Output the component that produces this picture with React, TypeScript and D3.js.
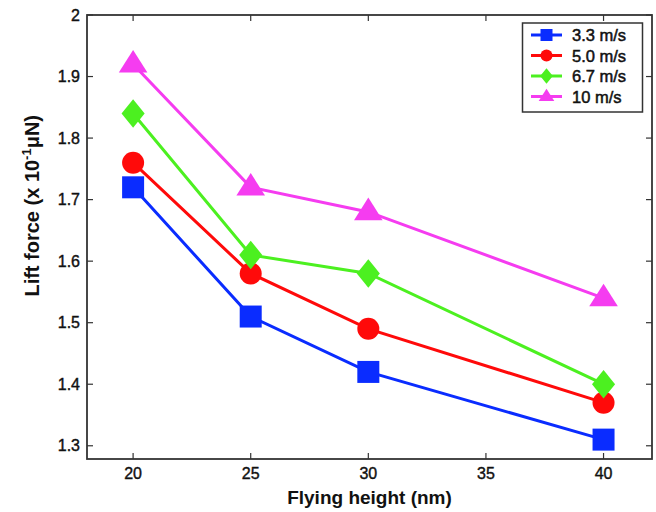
import React, { useEffect, useRef } from 'react';
import * as d3 from 'd3';

const heights = [20, 25, 30, 40];
const seriesNames = ['3.3 m/s', '5.0 m/s', '6.7 m/s', '10 m/s'];
const lift33 = [1.72, 1.51, 1.42, 1.31];
const lift50 = [1.76, 1.58, 1.49, 1.37];
const lift67 = [1.84, 1.61, 1.58, 1.4];
const lift10 = [1.92, 1.72, 1.68, 1.54];
const xTicks = [20, 25, 30, 35, 40];
const yTicks = [1.3, 1.4, 1.5, 1.6, 1.7, 1.8, 1.9, 2];

const colors = ['#0a2cff', '#ff0a0a', '#4cf020', '#f53cf0'];
const shapes = ['square', 'circle', 'diamond', 'triangle'];

// path for a marker centred on 0,0, s = nominal size
const markerPath = (shape: string, s: number) => {
  const h = s / 2;
  if (shape === 'square') return `M${-h},${-h}H${h}V${h}H${-h}Z`;
  if (shape === 'circle') return d3.arc()({ innerRadius: 0, outerRadius: h, startAngle: 0, endAngle: 2 * Math.PI } as any) as string;
  if (shape === 'diamond') return `M0,${-h * 1.3}L${h * 1.05},0L0,${h * 1.3}L${-h * 1.05},0Z`;
  return `M0,${-h * 1.3}L${h * 1.3},${h * 0.75}L${-h * 1.3},${h * 0.75}Z`;
};

const Chart = () => {
  const svgRef = useRef<SVGSVGElement>(null);

  useEffect(() => {
    const width = 656;
    const height = 512;
    const left = 87, right = 652, top = 15, bottom = 459;
    const font = '"Liberation Sans", Arial, sans-serif';

    const svg = d3.select(svgRef.current).attr('width', width).attr('height', height);
    svg.selectAll('*').remove();

    const x = d3.scaleLinear().domain([18.04, 42.06]).range([left, right]);
    const y = d3.scaleLinear().domain([1.2785, 2]).range([bottom, top]);

    const series = [lift33, lift50, lift67, lift10];

    // ticks (inward, all four sides)
    const tk = 6;
    const g = svg.append('g').attr('stroke', '#333').attr('stroke-width', 1.2);
    xTicks.forEach((t) => {
      g.append('line').attr('x1', x(t)).attr('x2', x(t)).attr('y1', bottom).attr('y2', bottom - tk);
      g.append('line').attr('x1', x(t)).attr('x2', x(t)).attr('y1', top).attr('y2', top + tk);
    });
    yTicks.forEach((t) => {
      g.append('line').attr('x1', left).attr('x2', left + tk).attr('y1', y(t)).attr('y2', y(t));
      g.append('line').attr('x1', right).attr('x2', right - tk).attr('y1', y(t)).attr('y2', y(t));
    });

    svg.append('rect')
      .attr('x', left).attr('y', top)
      .attr('width', right - left).attr('height', bottom - top)
      .attr('fill', 'none').attr('stroke', '#333').attr('stroke-width', 1.8);

    // tick labels
    svg.append('g').selectAll('text').data(xTicks).enter().append('text')
      .attr('x', (d) => x(d)).attr('y', bottom + 20)
      .attr('text-anchor', 'middle')
      .attr('font-family', font).attr('font-size', 16).attr('fill', '#111')
      .attr('stroke', '#111').attr('stroke-width', 0.4)
      .text((d) => d);
    svg.append('g').selectAll('text').data(yTicks).enter().append('text')
      .attr('x', left - 7).attr('y', (d) => y(d) + 5.5)
      .attr('text-anchor', 'end')
      .attr('font-family', font).attr('font-size', 16).attr('fill', '#111')
      .attr('stroke', '#111').attr('stroke-width', 0.4)
      .text((d) => d);

    // axis titles
    svg.append('text')
      .attr('x', (left + right) / 2).attr('y', 504)
      .attr('text-anchor', 'middle')
      .attr('font-family', font).attr('font-size', 19).attr('font-weight', 'bold').attr('fill', '#111')
      .text('Flying height (nm)');

    const yl = svg.append('text')
      .attr('transform', `translate(39,${y(1.69)}) rotate(-90)`)
      .attr('text-anchor', 'middle')
      .attr('font-family', font).attr('font-size', 20).attr('font-weight', 'bold').attr('fill', '#111');
    yl.append('tspan').text('Lift force (x 10');
    yl.append('tspan').attr('dy', -8).attr('font-size', 13).text('-1');
    yl.append('tspan').attr('dy', 8).text('μN)');

    // lines + markers
    const line = d3.line<number>().x((d, i) => x(heights[i])).y((d) => y(d));
    series.forEach((vals, si) => {
      svg.append('path')
        .attr('d', line(vals))
        .attr('fill', 'none').attr('stroke', colors[si]).attr('stroke-width', 3);
      svg.append('g').selectAll('path').data(vals).enter().append('path')
        .attr('transform', (d, i) => `translate(${x(heights[i])},${y(d)})`)
        .attr('d', markerPath(shapes[si], 22))
        .attr('fill', colors[si]);
    });

    // legend
    const lg = svg.append('g');
    lg.append('rect')
      .attr('x', 522.5).attr('y', 23).attr('width', 120).attr('height', 89)
      .attr('fill', 'white').attr('stroke', '#333').attr('stroke-width', 1.5);
    seriesNames.forEach((name, i) => {
      const ly = 35 + i * 20.5;
      lg.append('line').attr('x1', 531).attr('x2', 562).attr('y1', ly).attr('y2', ly)
        .attr('stroke', colors[i]).attr('stroke-width', 3);
      lg.append('path').attr('transform', `translate(546.5,${ly})`)
        .attr('d', markerPath(shapes[i], 12)).attr('fill', colors[i]);
      lg.append('text').attr('x', 572).attr('y', ly + 6)
        .attr('font-family', font).attr('font-size', 16.5).attr('fill', '#111')
        .attr('stroke', '#111').attr('stroke-width', 0.5)
        .text(name);
    });
  }, []);

  return <svg ref={svgRef} style={{ position: 'absolute', left: 0, top: 0, background: 'white' }} />;
};

export default function App() {
  return <Chart />;
}
